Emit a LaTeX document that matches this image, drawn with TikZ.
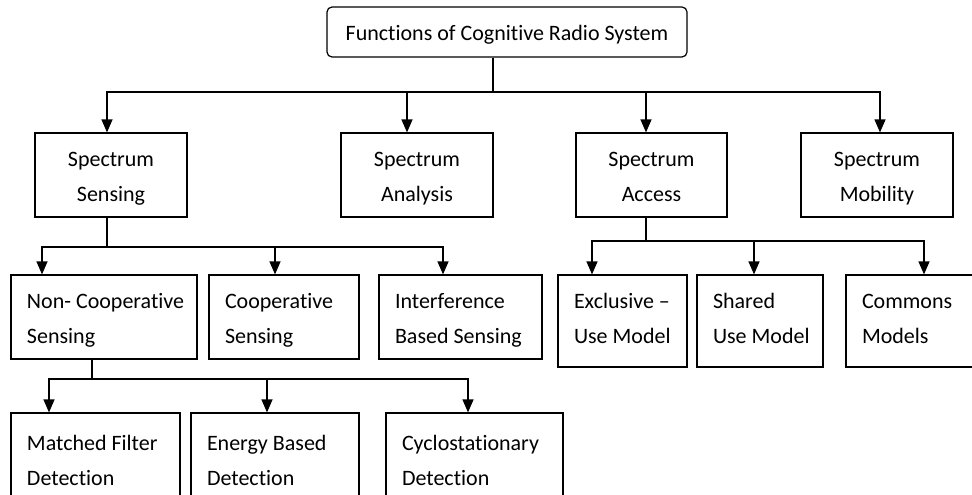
\documentclass[tikz,border=0pt]{standalone}
\usepackage{fontspec}
\setmainfont{Carlito}[Ligatures={TeX,NoCommon}]
\usetikzlibrary{arrows.meta}
% struts that fix the baselines of two-line labels
\newcommand\lnstrut{\rule[-5pt]{0pt}{27pt}}
\newcommand\lnstrutb{\rule[-13pt]{0pt}{35pt}}
\newcommand\twolines[2]{\mbox{\lnstrut #1}\\\mbox{\lnstrut #2}}
\newcommand\twolinesb[2]{\mbox{\lnstrutb #1}\\\mbox{\lnstrutb #2}}
\begin{document}
\begin{tikzpicture}[x=1pt,y=-1pt,
  line width=1.2pt,
  every node/.style={font=\fontsize{22}{35}\selectfont},
  cbox/.style={draw, rectangle, inner sep=0pt, align=center},
  lbox/.style={draw, rectangle, inner ysep=0pt, inner xsep=16pt, align=flush left},
  arr/.style={-{Triangle[width=11pt,length=13pt]}}]
\clip (0,0) rectangle (972,495);
\fill[white] (0,0) rectangle (972,495);

% root
\node[cbox, rounded corners=5pt, minimum width=360pt, minimum height=50pt] (root) at (507,32) {\lnstrut Functions of Cognitive Radio System};

% main functions
\node[cbox, minimum width=152pt, minimum height=84pt] (sens) at (111,175) {\twolines{Spectrum}{Sensing}};
\node[cbox, minimum width=152pt, minimum height=84pt] (anal) at (417,175) {\twolines{Spectrum}{Analysis}};
\node[cbox, minimum width=151pt, minimum height=84pt] (acc)  at (651.5,175) {\twolines{Spectrum}{Access}};
\node[cbox, minimum width=152pt, minimum height=84pt] (mob)  at (877,175) {\twolines{Spectrum}{Mobility}};

% sensing types
\node[lbox, text width=154pt, minimum height=84pt] (noncoop) at (104,317) {\twolines{Non- Cooperative}{Sensing}};
\node[lbox, text width=118pt, minimum height=84pt] (coop) at (284,317) {\twolines{Cooperative}{Sensing}};
\node[lbox, text width=131pt, minimum height=84pt] (interf) at (460.5,317) {\twolines{Interference}{Based Sensing}};

% access models
\node[lbox, text width=97pt, minimum height=92pt] (excl) at (622.5,321) {\twolinesb{Exclusive –}{Use Model}};
\node[lbox, text width=94pt, minimum height=92pt] (shared) at (760,321) {\twolinesb{Shared}{Use Model}};
\node[lbox, text width=102pt, minimum height=92pt] (commons) at (913,321) {\twolinesb{Commons}{Models}};

% detection methods
\node[lbox, text width=137pt, minimum height=92pt] (matched) at (95.5,459) {\twolines{Matched Filter}{Detection}};
\node[lbox, text width=136pt, minimum height=92pt] (energy) at (275,459) {\twolines{Energy Based}{Detection}};
\node[lbox, text width=145pt, minimum height=92pt] (cyclo) at (474.5,459) {\twolines{Cyclostationary}{Detection}};

% root -> main functions
\coordinate (busA) at (493,92);
\draw (root.south -| busA) -- (busA);
\draw[arr] (busA) -| ([xshift=-4pt]sens.north);
\draw[arr] (busA) -| ([xshift=-10pt]anal.north);
\draw[arr] (busA) -| ([xshift=-5.5pt]acc.north);
\draw[arr] (busA) -| ([xshift=3pt]mob.north);

% sensing -> sensing types
\coordinate (busB) at (107,247);
\draw (sens.south -| busB) -- (busB);
\draw[arr] (busB) -| ([xshift=-62pt]noncoop.north);
\draw[arr] (busB) -| ([xshift=-9pt]coop.north);
\draw[arr] (busB) -| ([xshift=-17.5pt]interf.north);

% access -> models
\coordinate (busC) at (646,241);
\draw (acc.south -| busC) -- (busC);
\draw[arr] (busC) -| ([xshift=-30.5pt]excl.north);
\draw[arr] (busC) -| ([xshift=-6pt]shared.north);
\draw[arr] (busC) -| ([xshift=11pt]commons.north);

% non-cooperative -> detection methods
\coordinate (busD) at (92,379);
\draw (noncoop.south -| busD) -- (busD);
\draw[arr] (busD) -| ([xshift=-46.5pt]matched.north);
\draw[arr] (busD) -| ([xshift=-8pt]energy.north);
\draw[arr] (busD) -| ([xshift=-6.5pt]cyclo.north);
\end{tikzpicture}
\end{document}
